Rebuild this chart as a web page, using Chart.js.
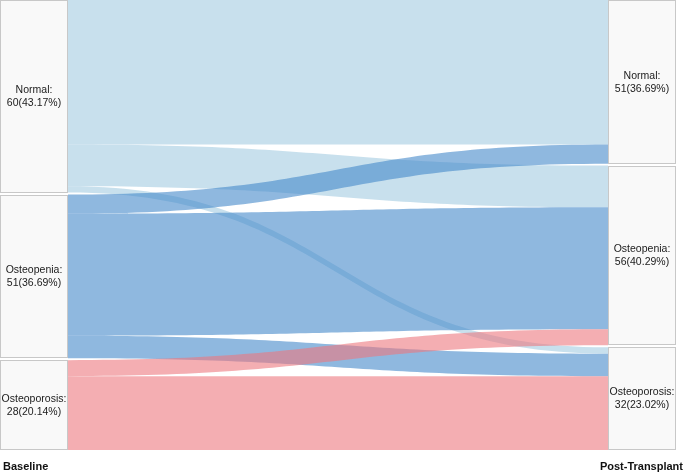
<!DOCTYPE html>
<html><head><meta charset="utf-8">
<script src="https://cdn.jsdelivr.net/npm/chart.js@4.4.1/dist/chart.umd.min.js"></script>
<style>html,body{margin:0;padding:0;background:#fff}</style>
</head><body>
<canvas id="c" width="685" height="475"></canvas>
<script>
const stages = ['Baseline', 'Post-Transplant'];
const categories = ['Normal', 'Osteopenia', 'Osteoporosis'];
const baselineCounts = [60, 51, 28];
const postCounts = [51, 56, 32];
// flows from each baseline category to [Normal, Osteopenia, Osteoporosis] post-transplant
const fromNormal = [45, 13, 2];
const fromOsteopenia = [6, 38, 7];
const fromOsteoporosis = [0, 5, 23];

const flowMatrix = [fromNormal, fromOsteopenia, fromOsteoporosis];
const flowColors = ['rgba(163,203,225,0.6)', 'rgba(68,137,202,0.6)', 'rgba(237,120,127,0.6)'];
const total = baselineCounts.reduce((a, b) => a + b, 0);
const GAP = 0.6; // value units between nodes
const yMax = total + GAP * (categories.length - 1);

function starts(counts) {
  const s = []; let acc = 0;
  counts.forEach((c, i) => { s.push(acc); acc += c + GAP; });
  return s;
}

const sankeyPlugin = {
  id: 'sankey',
  afterDraw(chart) {
    const ctx = chart.ctx;
    const xs = chart.scales.x, ys = chart.scales.y;
    const nodeW = 68;
    const xL = xs.getPixelForValue(0), xR = xs.getPixelForValue(1);
    const sx = xL + nodeW, tx = xR - nodeW, mx = (sx + tx) / 2;
    const lStart = starts(baselineCounts), rStart = starts(postCounts);
    const lOff = lStart.slice(), rOff = rStart.slice();
    const flows = [];
    for (let i = 0; i < categories.length; i++) {
      for (let j = 0; j < categories.length; j++) {
        const v = flowMatrix[i][j];
        if (!v) continue;
        flows.push({ i, j, v, s0: lOff[i] });
        lOff[i] += v;
      }
    }
    for (let j = 0; j < categories.length; j++) {
      for (const f of flows) if (f.j === j) { f.t0 = rOff[j]; rOff[j] += f.v; }
    }
    ctx.save();
    for (const f of flows) {
      const a = ys.getPixelForValue(f.s0), b = ys.getPixelForValue(f.s0 + f.v);
      const c = ys.getPixelForValue(f.t0), d = ys.getPixelForValue(f.t0 + f.v);
      ctx.beginPath();
      ctx.moveTo(sx, a);
      ctx.bezierCurveTo(mx, a, mx, c, tx, c);
      ctx.lineTo(tx, d);
      ctx.bezierCurveTo(mx, d, mx, b, sx, b);
      ctx.closePath();
      ctx.fillStyle = flowColors[f.i];
      ctx.fill();
    }
    const drawNode = (x, y0v, val, label) => {
      const y0 = Math.round(ys.getPixelForValue(y0v));
      const y1 = Math.round(ys.getPixelForValue(y0v + val));
      ctx.fillStyle = '#f9f9f9';
      ctx.fillRect(x, y0, nodeW, y1 - y0);
      ctx.strokeStyle = '#c8c8c8';
      ctx.lineWidth = 1;
      ctx.strokeRect(x + 0.5, y0 + 0.5, nodeW - 1, y1 - y0 - 1);
      ctx.fillStyle = '#1a1a1a';
      ctx.font = '10.5px "Liberation Sans", Arial, sans-serif';
      ctx.textAlign = 'center';
      ctx.textBaseline = 'middle';
      const cy = (y0 + y1) / 2;
      ctx.fillText(label + ':', x + nodeW / 2, cy - 6);
      ctx.fillText(val + '(' + (val / total * 100).toFixed(2) + '%)', x + nodeW / 2, cy + 7);
    };
    categories.forEach((c, i) => drawNode(xL, lStart[i], baselineCounts[i], c));
    categories.forEach((c, i) => drawNode(xR - nodeW, rStart[i], postCounts[i], c));
    ctx.fillStyle = '#111';
    ctx.font = 'bold 11px "Liberation Sans", Arial, sans-serif';
    ctx.textBaseline = 'middle';
    ctx.textAlign = 'left';
    ctx.fillText(stages[0], 3, 467);
    ctx.textAlign = 'right';
    ctx.fillText(stages[1], 683, 467);
    ctx.restore();
  }
};

new Chart(document.getElementById('c'), {
  type: 'scatter',
  data: { datasets: [] },
  options: {
    responsive: false,
    animation: false,
    layout: { padding: { left: 0, right: 9, top: 0, bottom: 25 } },
    plugins: { legend: { display: false }, tooltip: { enabled: false } },
    scales: {
      x: { type: 'linear', min: 0, max: 1, display: false },
      y: { type: 'linear', min: 0, max: yMax, reverse: true, display: false }
    }
  },
  plugins: [sankeyPlugin]
});
</script>
</body></html>
